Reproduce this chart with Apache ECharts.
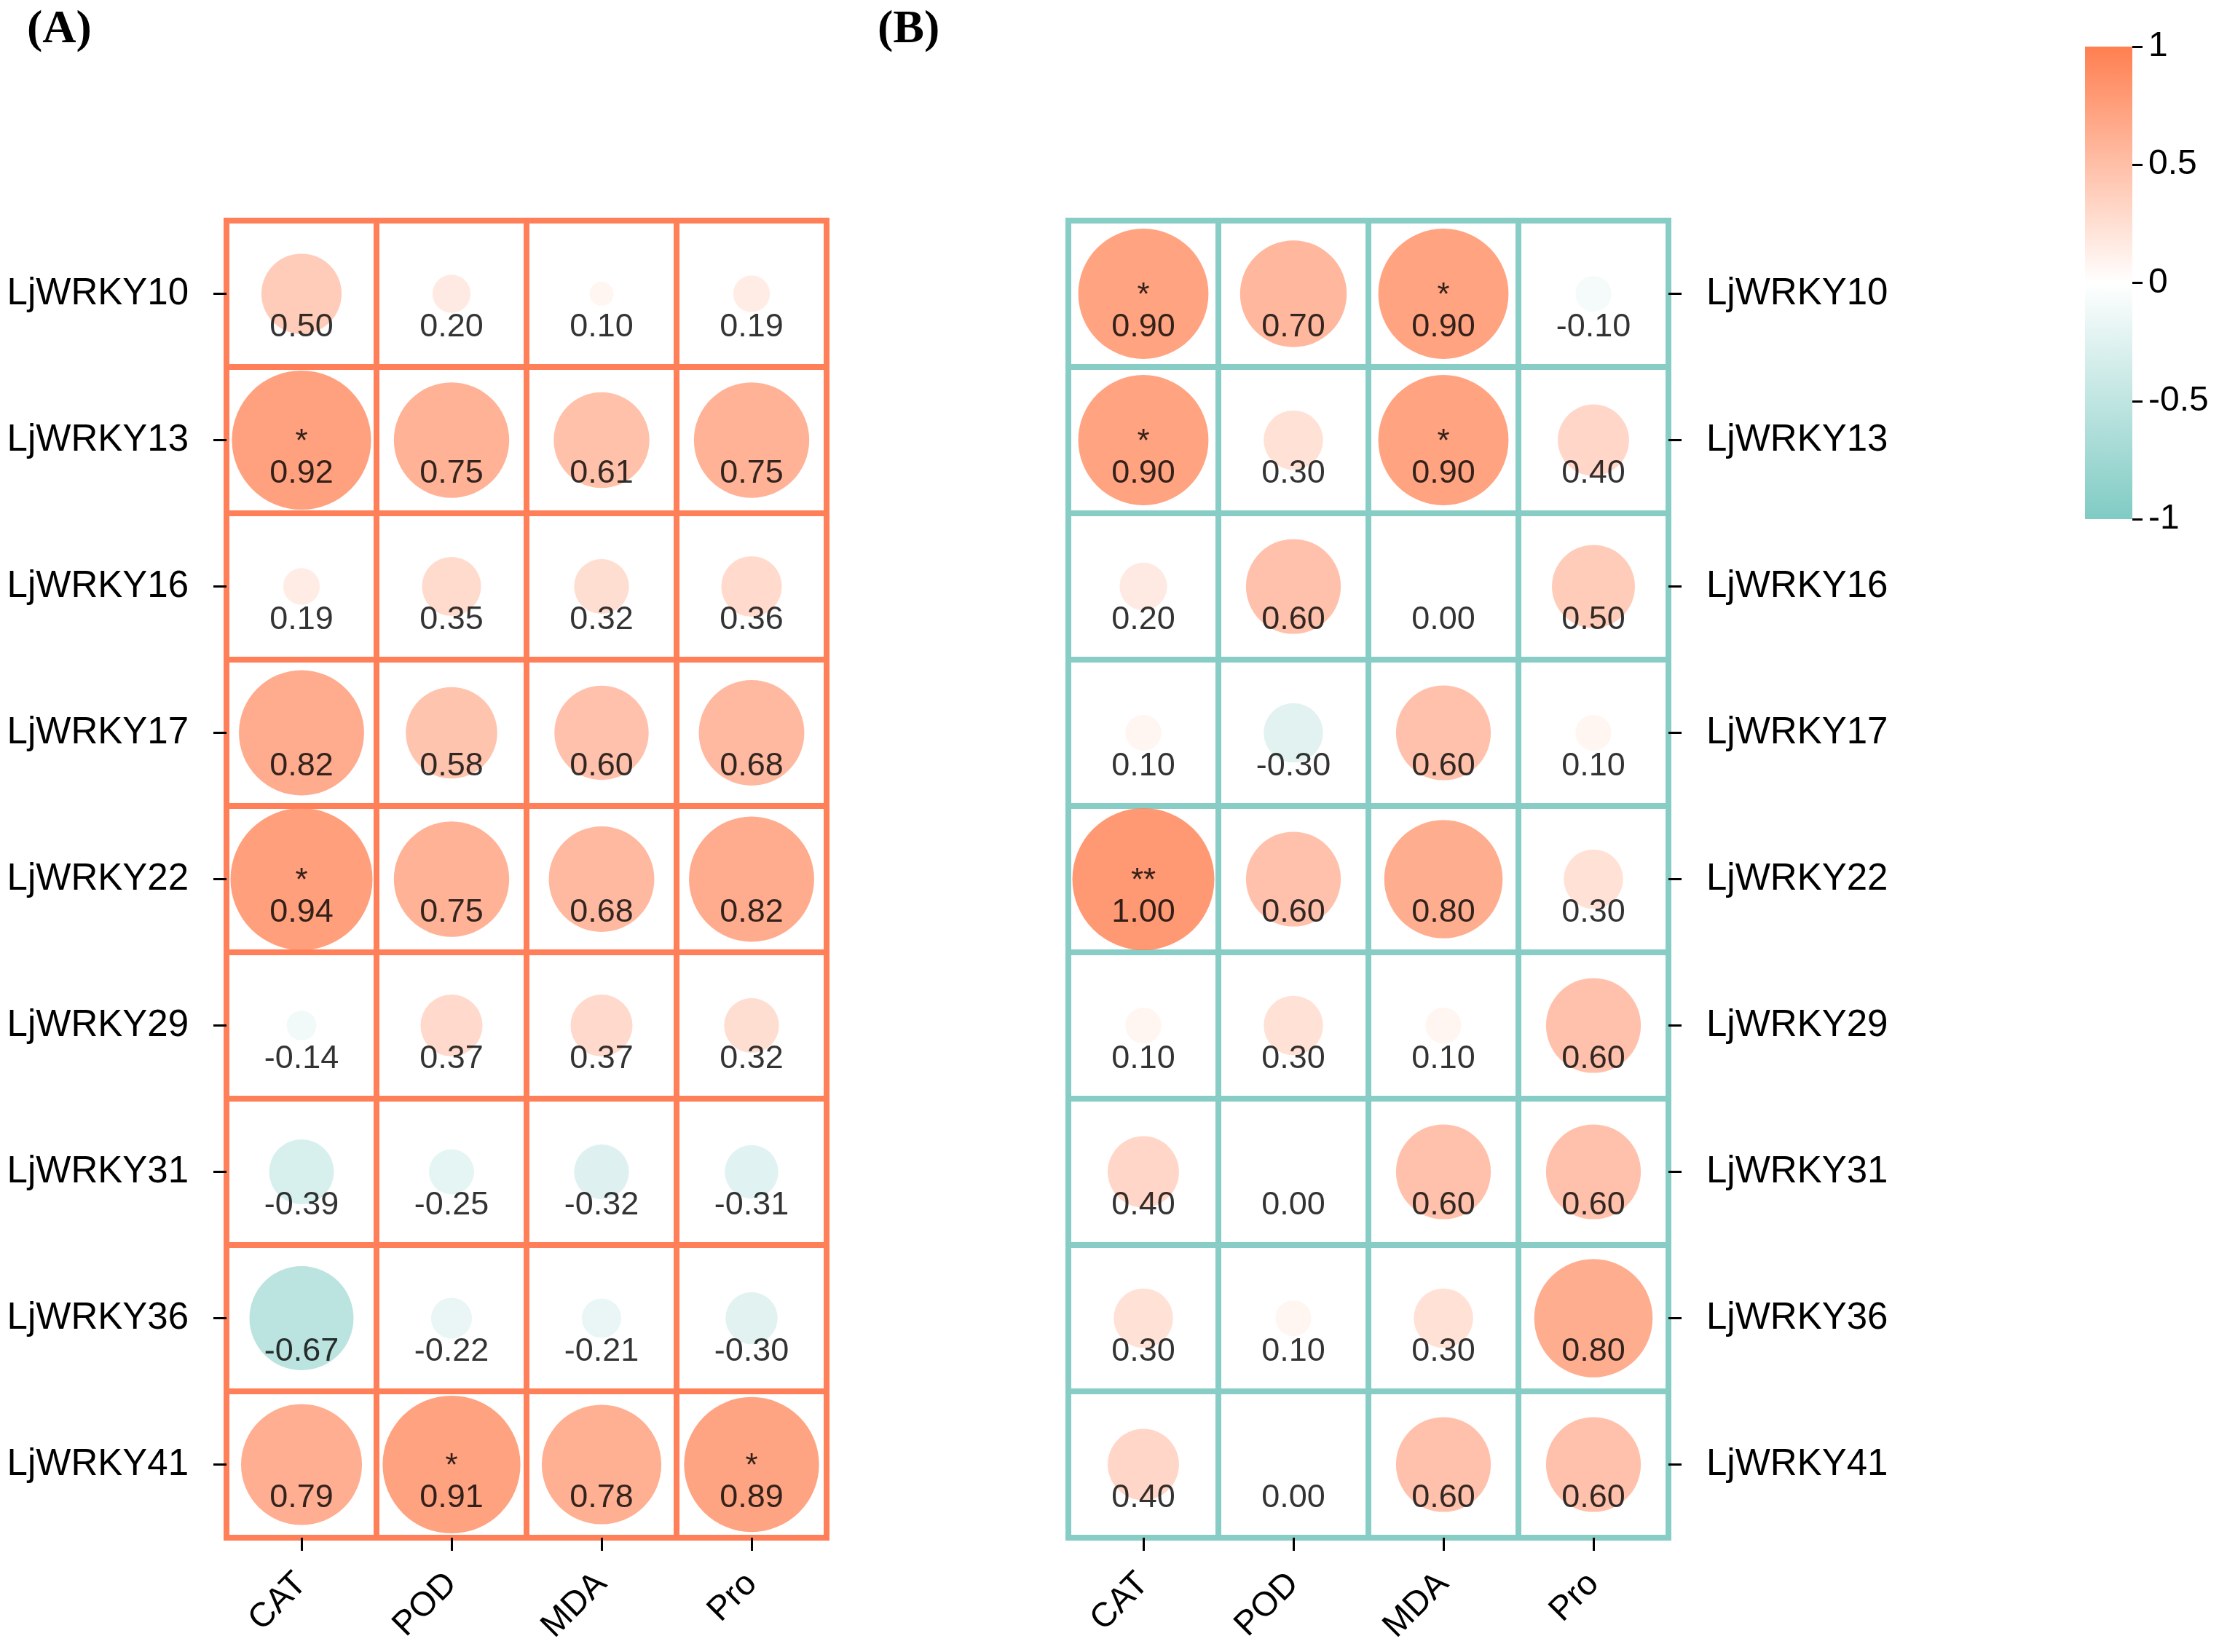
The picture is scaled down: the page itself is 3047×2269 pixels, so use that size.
<!DOCTYPE html>
<html>
<head>
<meta charset="utf-8">
<title>LjWRKY correlation</title>
<script src="https://cdn.jsdelivr.net/npm/echarts@6/dist/echarts.min.js"></script>
<style>
  html, body { margin: 0; padding: 0; background: #fff; }
  #chart { width: 3047px; height: 2269px; }
</style>
</head>
<body>
<div id="chart"></div>
<script>
  // 指标（列）和基因（行）
  const TRAITS = ["CAT", "POD", "MDA", "Pro"];
  const GENES = ["LjWRKY10", "LjWRKY13", "LjWRKY16", "LjWRKY17", "LjWRKY22",
                 "LjWRKY29", "LjWRKY31", "LjWRKY36", "LjWRKY41"];

  // (A) 相关系数，每行一个基因，按 TRAITS 顺序
  const corrA = [
    [0.50, 0.20, 0.10, 0.19],
    [0.92, 0.75, 0.61, 0.75],
    [0.19, 0.35, 0.32, 0.36],
    [0.82, 0.58, 0.60, 0.68],
    [0.94, 0.75, 0.68, 0.82],
    [-0.14, 0.37, 0.37, 0.32],
    [-0.39, -0.25, -0.32, -0.31],
    [-0.67, -0.22, -0.21, -0.30],
    [0.79, 0.91, 0.78, 0.89],
  ];
  const sigA = [
    ["", "", "", ""],
    ["*", "", "", ""],
    ["", "", "", ""],
    ["", "", "", ""],
    ["*", "", "", ""],
    ["", "", "", ""],
    ["", "", "", ""],
    ["", "", "", ""],
    ["", "*", "", "*"],
  ];

  // (B)
  const corrB = [
    [0.90, 0.70, 0.90, -0.10],
    [0.90, 0.30, 0.90, 0.40],
    [0.20, 0.60, 0.00, 0.50],
    [0.10, -0.30, 0.60, 0.10],
    [1.00, 0.60, 0.80, 0.30],
    [0.10, 0.30, 0.10, 0.60],
    [0.40, 0.00, 0.60, 0.60],
    [0.30, 0.10, 0.30, 0.80],
    [0.40, 0.00, 0.60, 0.60],
  ];
  const sigB = [
    ["*", "", "*", ""],
    ["*", "", "*", ""],
    ["", "", "", ""],
    ["", "", "", ""],
    ["**", "", "", ""],
    ["", "", "", ""],
    ["", "", "", ""],
    ["", "", "", ""],
    ["", "", "", ""],
  ];

  // 色条刻度
  const barTicks = [-1, -0.5, 0, 0.5, 1];

  const HIGH = "#FF7F50";
  const MID = "#FFFFFF";
  const LOW = "#80CBC4";
  const FONT = "'Liberation Sans', Arial, sans-serif";

  // 半径线性映射：每个面板 |r| 的范围 -> 直径 [33, 195]
  function sizeScale(mat) {
    const abs = mat.flat().map(Math.abs);
    const lo = Math.min(...abs), hi = Math.max(...abs);
    return (v) => 33 + (Math.abs(v) - lo) / (hi - lo) * (195 - 33);
  }

  function toPoints(mat, sig) {
    const pts = [];
    mat.forEach((row, r) => row.forEach((v, c) => {
      pts.push({ value: [c, r, v], sig: sig[r][c] });
    }));
    return pts;
  }

  function gridAxes(idx, side, border) {
    const x = {
      type: "category", gridIndex: idx, data: TRAITS,
      axisLine: { show: false },
      axisTick: { show: true, alignWithLabel: true, length: 18,
                  lineStyle: { color: "#000", width: 3 } },
      axisLabel: { rotate: 45, margin: 56, fontSize: 47, color: "#000", fontFamily: FONT },
      splitLine: { show: true, lineStyle: { color: border, width: 8 } },
    };
    const y = {
      type: "category", gridIndex: idx, data: GENES, inverse: true, position: side,
      axisLine: { show: false },
      axisTick: { show: true, alignWithLabel: true, length: 18,
                  lineStyle: { color: "#000", width: 3 } },
      axisLabel: { margin: 52, fontSize: 51, color: "#000", fontFamily: FONT },
      splitLine: { show: true, lineStyle: { color: border, width: 8 } },
    };
    return [x, y];
  }

  function panelSeries(idx, mat, sig) {
    const size = sizeScale(mat);
    const pts = toPoints(mat, sig);
    return [
      {
        type: "scatter", xAxisIndex: idx, yAxisIndex: idx, data: pts,
        symbol: "circle",
        symbolSize: (val) => size(val[2]),
        z: 2,
        label: {
          show: true, position: "inside", offset: [0, 46],
          formatter: (p) => p.value[2].toFixed(2),
          fontSize: 45, color: "#000", fontFamily: FONT,
        },
        emphasis: { disabled: true },
      },
      {
        type: "scatter", xAxisIndex: idx, yAxisIndex: idx, data: pts,
        symbolSize: 0, z: 3, silent: true,
        label: {
          show: true, position: "inside", offset: [0, 3],
          formatter: (p) => p.data.sig,
          fontSize: 44, color: "#000", fontFamily: FONT,
        },
      },
    ];
  }

  const [xA, yA] = gridAxes(0, "left", "#FF7F58");
  const [xB, yB] = gridAxes(1, "right", "#88CDC5");

  const chart = echarts.init(document.getElementById("chart"), null, { renderer: "canvas" });
  chart.setOption({
    animation: false,
    backgroundColor: "#fff",
    title: [
      { text: "(A)", left: 37, top: 9, padding: 0,
        textStyle: { fontFamily: "'Liberation Serif', 'Times New Roman', serif",
                     fontWeight: "bold", fontSize: 64, color: "#000" } },
      { text: "(B)", left: 1205, top: 9, padding: 0,
        textStyle: { fontFamily: "'Liberation Serif', 'Times New Roman', serif",
                     fontWeight: "bold", fontSize: 64, color: "#000" } },
    ],
    grid: [
      { left: 311, top: 303, width: 824, height: 1809, show: true,
        borderColor: "#FF7F58", borderWidth: 8, backgroundColor: "transparent" },
      { left: 1467, top: 303, width: 824, height: 1809, show: true,
        borderColor: "#88CDC5", borderWidth: 8, backgroundColor: "transparent" },
      // 色条
      { left: 2863, top: 64, width: 65, height: 649 },
    ],
    xAxis: [
      xA, xB,
      { type: "value", gridIndex: 2, min: 0, max: 1, show: false },
    ],
    yAxis: [
      yA, yB,
      {
        type: "value", gridIndex: 2, position: "right",
        min: barTicks[0], max: barTicks[barTicks.length - 1], interval: 0.5,
        axisLine: { show: false, onZero: false },
        splitLine: { show: false },
        axisTick: { show: true, length: 14, lineStyle: { color: "#000", width: 3 } },
        axisLabel: { margin: 22, fontSize: 48, color: "#000", fontFamily: FONT,
                     formatter: (v) => String(v) },
      },
    ],
    visualMap: [{
      type: "continuous", show: false, seriesIndex: [0, 2], dimension: 2,
      min: -1, max: 1, inRange: { color: [LOW, MID, HIGH] },
    }],
    series: [
      ...panelSeries(0, corrA, sigA),
      ...panelSeries(1, corrB, sigB),
      {
        type: "custom", xAxisIndex: 2, yAxisIndex: 2, silent: true, z: 1,
        data: [[0, barTicks[0], 1, barTicks[barTicks.length - 1]]],
        renderItem: (params, api) => {
          const p0 = api.coord([api.value(0), api.value(3)]);
          const p1 = api.coord([api.value(2), api.value(1)]);
          return {
            type: "rect",
            shape: { x: p0[0], y: p0[1], width: p1[0] - p0[0], height: p1[1] - p0[1] },
            style: {
              fill: new echarts.graphic.LinearGradient(0, 0, 0, 1, [
                { offset: 0, color: HIGH },
                { offset: 0.5, color: MID },
                { offset: 1, color: LOW },
              ]),
            },
          };
        },
      },
    ],
  });
</script>
</body>
</html>
